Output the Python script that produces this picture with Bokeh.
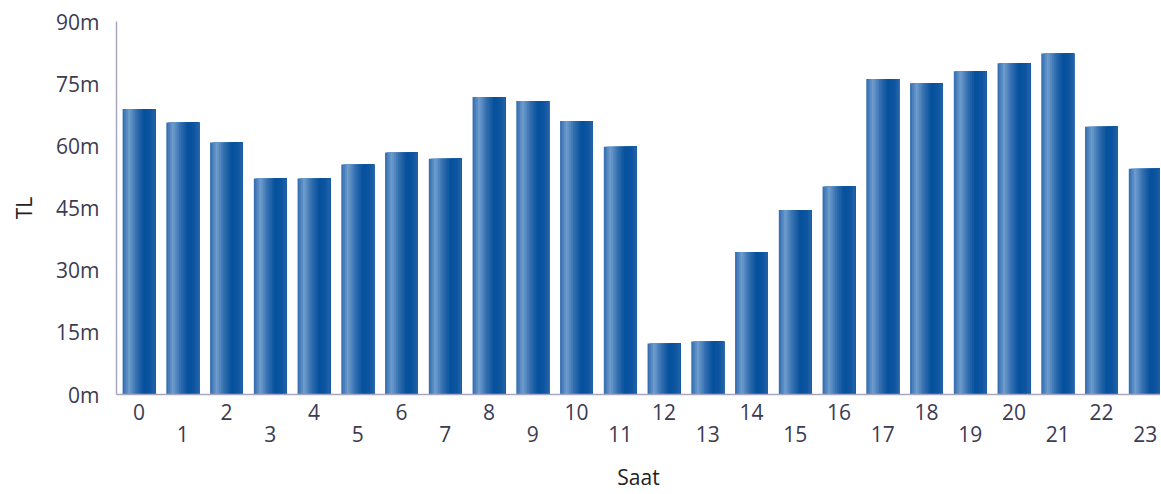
from bokeh.plotting import figure
from bokeh.models import ColumnDataSource, Range1d, FixedTicker, LinearAxis
from bokeh.transform import dodge
from bokeh.embed import file_html
from bokeh.resources import INLINE

# ---- data ----
hours = list(range(24))
values_tl = [68.9e6, 65.6e6, 60.8e6, 52.1e6, 52.1e6, 55.5e6, 58.4e6, 56.9e6,
             71.8e6, 70.8e6, 66.0e6, 59.8e6, 12.3e6, 12.8e6, 34.4e6, 44.5e6,
             50.2e6, 76.1e6, 75.1e6, 78.0e6, 79.9e6, 82.3e6, 64.6e6, 54.5e6]
y_ticks = [0, 15e6, 30e6, 45e6, 60e6, 75e6, 90e6]
y_tick_labels = ["0m", "15m", "30m", "45m", "60m", "75m", "90m"]
x_tick_labels = [str(h) for h in hours]
x_title = "Saat"
y_title = "TL"

# ---- style ----
FONT = "Open Sans"
TICK_COLOR = "#3b3b52"
AXIS_LINE = "#a6a6c0"
TICK_SIZE = "21px"
TITLE_SIZE = "21px"
BAR_W = 0.75
stops = [(0.0, (0x2f, 0x6a, 0xae)), (0.2, (0x6f, 0x9d, 0xcd)), (0.42, (0x34, 0x6f, 0xb0)),
         (0.66, (0x04, 0x50, 0x9c)), (0.85, (0x0e, 0x55, 0xa0)), (1.0, (0x24, 0x64, 0xa9))]


def grad(t):
    for (t0, c0), (t1, c1) in zip(stops[:-1], stops[1:]):
        if t0 <= t <= t1:
            f = (t - t0) / (t1 - t0) if t1 > t0 else 0
            r, g, b = (round(a + (bb - a) * f) for a, bb in zip(c0, c1))
            return "#%02x%02x%02x" % (r, g, b)
    return "#%02x%02x%02x" % stops[-1][1]


src = ColumnDataSource(dict(hour=hours, value=values_tl))

p = figure(width=1160, height=493, output_backend="svg", toolbar_location=None,
           x_range=Range1d(-0.514, 23.35), y_range=Range1d(0, 90e6),
           min_border_left=116, min_border_right=0, min_border_top=21, min_border_bottom=90,
           x_axis_location=None, y_axis_location="left")
p.outline_line_color = None
p.grid.visible = False
p.background_fill_color = "white"
p.border_fill_color = "white"

# gradient bars built from layered strips
N = 18
for k in range(N):
    left = -BAR_W / 2 + k * BAR_W / N
    right = BAR_W / 2
    t = (k + 0.5) / N
    p.vbar(x=dodge("hour", (left + right) / 2, range=p.x_range), top="value",
           width=right - left, source=src, fill_color=grad(t), line_color=None)

# y axis
ya = p.yaxis[0]
ya.ticker = FixedTicker(ticks=y_ticks)
ya.major_label_overrides = {t: l for t, l in zip(y_ticks, y_tick_labels)}
ya.axis_line_color = AXIS_LINE
ya.axis_line_width = 1.5
ya.major_tick_line_color = None
ya.minor_tick_line_color = None
ya.major_tick_out = 0
ya.major_label_standoff = 17
ya.major_label_text_font = FONT
ya.major_label_text_font_size = TICK_SIZE
ya.major_label_text_color = TICK_COLOR
ya.axis_label = y_title
ya.axis_label_text_font = FONT
ya.axis_label_text_font_size = TITLE_SIZE
ya.axis_label_text_font_style = "normal"
ya.axis_label_text_color = "#222222"
ya.axis_label_standoff = 15

even = [h for h in hours if h % 2 == 0]
odd = [h for h in hours if h % 2 == 1]

xa1 = LinearAxis(ticker=FixedTicker(ticks=even),
                 major_label_overrides={h: x_tick_labels[h] for h in even})
xa2 = LinearAxis(ticker=FixedTicker(ticks=odd),
                 major_label_overrides={h: x_tick_labels[h] for h in odd})
for a in (xa1, xa2):
    a.major_tick_line_color = None
    a.minor_tick_line_color = None
    a.major_tick_out = 0
    a.major_label_text_font = FONT
    a.major_label_text_font_size = TICK_SIZE
    a.major_label_text_color = TICK_COLOR
xa1.axis_line_color = AXIS_LINE
xa1.axis_line_width = 1.5
xa1.major_label_standoff = 9
xa2.axis_line_color = None
xa2.major_label_standoff = 3
xa2.axis_label = x_title
xa2.axis_label_text_font = FONT
xa2.axis_label_text_font_size = TITLE_SIZE
xa2.axis_label_text_font_style = "normal"
xa2.axis_label_text_color = "#222222"
xa2.axis_label_standoff = 18
p.add_layout(xa1, "below")
p.add_layout(xa2, "below")

open("out.html", "w").write(file_html(p, INLINE))
